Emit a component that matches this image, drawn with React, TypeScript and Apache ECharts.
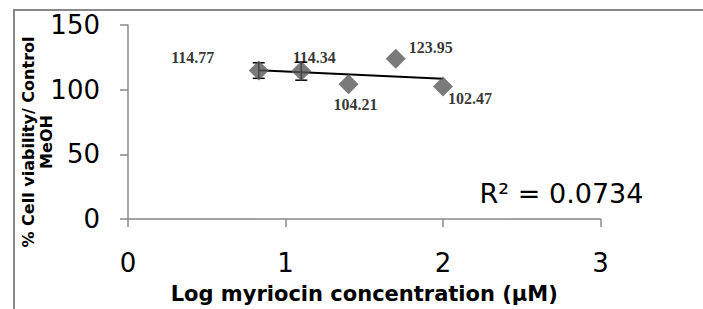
import React, { useEffect, useRef } from "react";
import * as echarts from "echarts";

const xValues = [0.83, 1.1, 1.4, 1.7, 2.0];
const yValues = [114.77, 114.34, 104.21, 123.95, 102.47];
const errValues = [6, 7, 0, 0, 0];
const labelOffsets: [number, number][] = [
  [-66, -13],
  [13, -14],
  [7, 20],
  [35, -11],
  [27, 12],
];
const trendLine: [number, number][] = [
  [0.83, 115.0],
  [2.0, 108.5],
];
const rSquaredText = "R² = 0.0734";
const xAxisTitle = "Log myriocin concentration (μM)";
const yAxisTitle = "% Cell viability/ Control\nMeOH";

export default function App() {
  const ref = useRef<HTMLDivElement>(null);
  useEffect(() => {
    if (!ref.current) return;
    const chart = echarts.init(ref.current, null, { renderer: "svg" });
    const axisColor = "#888888";
    const option: any = {
      animation: false,
      backgroundColor: "#ffffff",
      grid: { left: 128, top: 25, width: 472.5, height: 200, containLabel: false },
      xAxis: {
        type: "value",
        min: 0,
        max: 3,
        interval: 1,
        splitLine: { show: false },
        axisLine: { show: true, onZero: false, lineStyle: { color: axisColor, width: 1.5 } },
        axisTick: { show: true, length: 8, lineStyle: { color: axisColor, width: 1.5 } },
        axisLabel: { margin: 31, fontSize: 26, fontFamily: "DejaVu Sans", color: "#000" },
        name: xAxisTitle,
        nameLocation: "middle",
        nameGap: 64,
        nameTextStyle: { fontSize: 21, fontWeight: "bold", fontFamily: "DejaVu Sans", color: "#000", lineHeight: 21 },
      },
      yAxis: {
        type: "value",
        min: 0,
        max: 150,
        interval: 50,
        splitLine: { show: false },
        axisLine: { show: true, lineStyle: { color: axisColor, width: 1.5 } },
        axisTick: { show: true, length: 8, lineStyle: { color: axisColor, width: 1.5 } },
        axisLabel: { margin: 28, fontSize: 26, fontFamily: "DejaVu Sans", color: "#000" },
      },
      graphic: [
        {
          type: "polyline",
          shape: { points: [[14, 309], [14, 10], [703, 10]] },
          style: { fill: "none", stroke: "#888888", lineWidth: 2 },
          silent: true,
        },
        {
          type: "text",
          x: 37,
          y: 142,
          rotation: Math.PI / 2,
          style: {
            text: yAxisTitle,
            fontSize: 16,
            fontWeight: "bold",
            fontFamily: "DejaVu Sans",
            fill: "#000",
            align: "center",
            verticalAlign: "middle",
            lineHeight: 18,
          },
        },
        {
          type: "text",
          x: 561.5,
          y: 193,
          style: {
            text: rSquaredText,
            fontSize: 27,
            fontFamily: "DejaVu Sans",
            fill: "#000",
            align: "center",
            verticalAlign: "middle",
          },
        },
      ],
      series: [
        {
          type: "custom",
          z: 1,
          data: xValues.map((x, i) => [x, yValues[i], errValues[i]]),
          renderItem: (params: any, api: any) => {
            const x = api.value(0);
            const y = api.value(1);
            const e = api.value(2);
            if (!e) return { type: "group", children: [] };
            const top = api.coord([x, y + e]);
            const bot = api.coord([x, y - e]);
            const w = 6;
            const style = { stroke: "#000", lineWidth: 1.5 };
            return {
              type: "group",
              children: [
                { type: "line", shape: { x1: top[0], y1: top[1], x2: bot[0], y2: bot[1] }, style },
                { type: "line", shape: { x1: top[0] - w, y1: top[1], x2: top[0] + w, y2: top[1] }, style },
                { type: "line", shape: { x1: bot[0] - w, y1: bot[1], x2: bot[0] + w, y2: bot[1] }, style },
              ],
            };
          },
        },
        {
          type: "line",
          z: 2,
          data: trendLine,
          showSymbol: false,
          symbol: "none",
          lineStyle: { color: "#000", width: 2 },
        },
        {
          type: "scatter",
          z: 3,
          symbol: "diamond",
          symbolSize: 20,
          itemStyle: { color: "#595959" },
          data: xValues.map((x, i) => ({
            value: [x, yValues[i]],
            label: {
              show: true,
              position: "inside",
              offset: labelOffsets[i],
              formatter: yValues[i].toFixed(2),
              fontFamily: "Liberation Serif",
              fontWeight: "bold",
              fontSize: 16,
              color: "#000",
              textBorderWidth: 0,
              textBorderColor: "transparent",
            },
          })),
        },
      ],
    };
    chart.setOption(option);
    return () => chart.dispose();
  }, []);
  return (
    <div
      ref={ref}
      style={{ position: "absolute", left: 0, top: 0, width: 703, height: 309, overflow: "hidden" }}
    />
  );
}
